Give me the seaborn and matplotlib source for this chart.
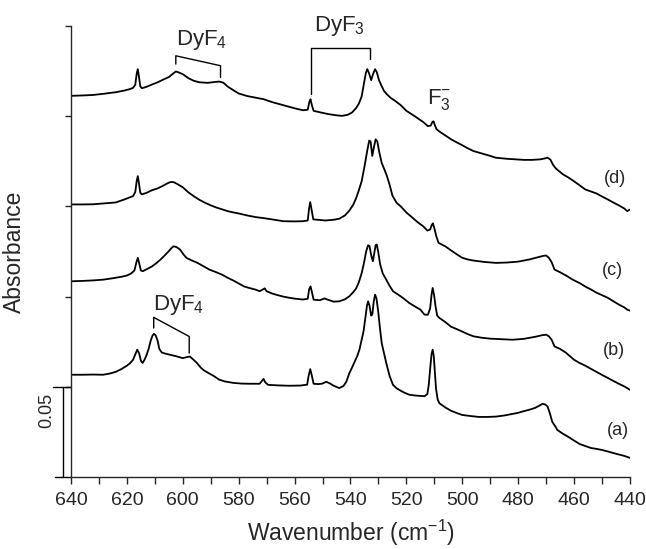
import matplotlib
matplotlib.use("Agg")
import matplotlib.pyplot as plt
import pandas as pd
import seaborn as sns

wn_d = [640, 636, 632, 628, 624, 621, 619, 617.8, 617, 616.5, 616.1, 615.7, 615.2, 614.6, 613, 611, 609,
        607, 605, 603.5, 602.5, 601.5, 600, 598, 596, 594, 591, 588.5, 587, 585.5, 584, 582, 580, 577,
        574, 571, 568, 564, 560, 557, 555.3, 554.7, 554.3, 553.8, 553.2, 551, 548, 545, 543, 541, 539.5,
        538, 537, 536, 535.2, 534.5, 534, 533.4, 532.6, 531.9, 531.2, 530.6, 529.8, 529, 528, 527,
        525.5, 524, 522, 520, 517, 514, 512.3, 511.3, 510.7, 510.3, 509.8, 509.2, 508, 506, 504, 502,
        500, 498, 496, 494, 492, 490, 488, 486, 484, 481, 478, 475, 472, 470.5, 469.5, 468.5, 467.5,
        466.5, 464, 462, 460, 458, 456, 454, 452, 450, 448, 446, 444, 442, 441, 440]
abs_d = [0.2113, 0.2115, 0.2118, 0.2125, 0.2133, 0.2142, 0.2150, 0.2157, 0.2175, 0.2235, 0.2261, 0.2220,
         0.2165, 0.2155, 0.2163, 0.2176, 0.2188, 0.2203, 0.2217, 0.2236, 0.2248, 0.2243, 0.2233, 0.2211,
         0.2196, 0.2188, 0.2185, 0.2190, 0.2192, 0.2186, 0.2165, 0.2145, 0.2126, 0.2112, 0.2103, 0.2094,
         0.2078, 0.2061, 0.2044, 0.2033, 0.2036, 0.2080, 0.2094, 0.2060, 0.2030, 0.2022, 0.2012, 0.2005,
         0.2002, 0.2008, 0.2020, 0.2045, 0.2070, 0.2110, 0.2180, 0.2240, 0.2261, 0.2240, 0.2200, 0.2235,
         0.2261, 0.2245, 0.2200, 0.2172, 0.2140, 0.2122, 0.2100, 0.2085, 0.2061, 0.2030, 0.2000, 0.1968,
         0.1945, 0.1948, 0.1968, 0.1972, 0.1950, 0.1928, 0.1913, 0.1893, 0.1872, 0.1855, 0.1839, 0.1822,
         0.1807, 0.1798, 0.1789, 0.1780, 0.1770, 0.1767, 0.1764, 0.1761, 0.1758, 0.1758, 0.1761, 0.1766,
         0.1770, 0.1760, 0.1730, 0.1710, 0.1678, 0.1660, 0.1639, 0.1617, 0.1594, 0.1583, 0.1572, 0.1555,
         0.1539, 0.1522, 0.1506, 0.1488, 0.1474, 0.1483]

wn_c = [640, 636, 632, 628, 624, 621, 619, 617.8, 617, 616.5, 616.1, 615.7, 615.2, 614.6, 613, 611, 609,
        607, 605, 604, 603, 601.5, 600, 598, 596, 594, 592, 590, 588, 586, 584, 582, 580, 577, 574, 571,
        568, 564, 560, 557, 555.3, 554.8, 554.4, 553.9, 553.3, 551, 549, 546, 544, 542, 540.5, 539, 538,
        537, 536, 535, 534, 533.3, 532.8, 532.2, 531.6, 531, 530.4, 529.7, 528.8, 528, 527, 526, 525,
        523.5, 522, 520, 518, 516, 514, 512.5, 511.5, 510.9, 510.5, 510, 509.3, 508.5, 506, 504, 502,
        500, 498, 496, 492, 488, 484, 480, 476, 473, 471, 470, 469, 468, 467, 465, 463, 460.5, 458, 456,
        454, 452, 450, 448, 446, 444, 442, 441, 440]
abs_c = [0.1511, 0.1511, 0.1512, 0.1517, 0.1522, 0.1538, 0.1550, 0.1557, 0.1580, 0.1640, 0.1668, 0.1630,
         0.1575, 0.1567, 0.1575, 0.1590, 0.1600, 0.1615, 0.1632, 0.1636, 0.1633, 0.1620, 0.1606, 0.1578,
         0.1556, 0.1536, 0.1520, 0.1506, 0.1494, 0.1484, 0.1474, 0.1467, 0.1461, 0.1450, 0.1441, 0.1435,
         0.1428, 0.1418, 0.1417, 0.1418, 0.1422, 0.1490, 0.1524, 0.1480, 0.1428, 0.1425, 0.1422, 0.1426,
         0.1432, 0.1450, 0.1475, 0.1510, 0.1545, 0.1590, 0.1640, 0.1720, 0.1810, 0.1865, 0.1860, 0.1780,
         0.1830, 0.1872, 0.1860, 0.1800, 0.1740, 0.1710, 0.1670, 0.1620, 0.1560, 0.1520, 0.1500, 0.1466,
         0.1440, 0.1413, 0.1390, 0.1366, 0.1372, 0.1398, 0.1406, 0.1380, 0.1335, 0.1298, 0.1278, 0.1256,
         0.1235, 0.1215, 0.1206, 0.1200, 0.1192, 0.1187, 0.1189, 0.1194, 0.1206, 0.1218, 0.1226, 0.1228,
         0.1215, 0.1190, 0.1150, 0.1135, 0.1118, 0.1094, 0.1075, 0.1056, 0.1040, 0.1022, 0.1008, 0.0994,
         0.0975, 0.0956, 0.0940, 0.0928, 0.0922]

wn_b = [640, 636, 632, 628.5, 625, 622, 620, 618.5, 617.3, 616.6, 616.1, 615.6, 615, 614.3, 612.5, 611,
        609.5, 608, 606.5, 605, 604, 603.3, 602.3, 601, 599.8, 598.7, 597, 595, 593, 590.5, 588, 586, 584,
        582, 580, 578, 576, 574, 572.5, 571.3, 570.7, 570, 568, 566, 564, 562, 560, 557, 555.3, 554.8,
        554.3, 553.8, 553.2, 551, 549.3, 548.5, 546, 544, 542, 540.4, 539, 538, 537, 536, 535.2, 534.4,
        533.7, 533.2, 532.6, 532, 531.5, 531, 530.6, 530.1, 529.4, 528.5, 527.2, 526, 524.8, 523, 521,
        519, 517, 515, 513.5, 512.3, 511.5, 511, 510.6, 510.1, 509.6, 509, 508.2, 506, 504, 502, 500,
        498, 496, 493, 490, 486, 482, 478, 474, 471.5, 470, 469, 468, 467, 465, 463, 460, 458, 456, 454,
        452, 450, 448, 446, 444, 442, 441, 440]
abs_b = [0.1085, 0.1087, 0.1090, 0.1094, 0.1102, 0.1110, 0.1117, 0.1128, 0.1145, 0.1190, 0.1215, 0.1185,
         0.1145, 0.1141, 0.1155, 0.1168, 0.1185, 0.1205, 0.1228, 0.1252, 0.1270, 0.1279, 0.1275, 0.1261,
         0.1235, 0.1215, 0.1202, 0.1189, 0.1172, 0.1150, 0.1135, 0.1122, 0.1105, 0.1090, 0.1073, 0.1056,
         0.1047, 0.1039, 0.1030, 0.1040, 0.1046, 0.1030, 0.1017, 0.1008, 0.1000, 0.0994, 0.0989, 0.0984,
         0.0988, 0.1040, 0.1057, 0.1025, 0.0983, 0.0980, 0.0990, 0.0985, 0.0972, 0.0974, 0.0985, 0.1002,
         0.1025, 0.1045, 0.1080, 0.1130, 0.1185, 0.1250, 0.1285, 0.1280, 0.1230, 0.1196, 0.1240, 0.1285,
         0.1289, 0.1250, 0.1180, 0.1130, 0.1094, 0.1060, 0.1030, 0.1012, 0.0990, 0.0965, 0.0946, 0.0928,
         0.0900, 0.0900, 0.0935, 0.1010, 0.1048, 0.1010, 0.0950, 0.0895, 0.0882, 0.0858, 0.0833, 0.0820,
         0.0806, 0.0792, 0.0780, 0.0772, 0.0767, 0.0764, 0.0761, 0.0766, 0.0777, 0.0786, 0.0789, 0.0780,
         0.0760, 0.0724, 0.0710, 0.0690, 0.0650, 0.0632, 0.0617, 0.0600, 0.0583, 0.0566, 0.0550, 0.0533,
         0.0517, 0.0502, 0.0493, 0.0483]

wn_a = [640, 636, 632, 628.5, 626, 624, 622, 620, 618.8, 617.8, 617, 616.3, 615.6, 615, 614.4, 613.7, 613,
        612.2, 611.5, 610.8, 610.3, 609.7, 609, 608.4, 607.5, 606, 604.6, 602, 600, 598.5, 597.5, 596.5,
        595, 593.5, 592.5, 591, 589, 587, 585, 582, 579, 576, 572.5, 571.6, 571.1, 570.5, 569.5, 566, 562,
        558, 555.5, 555, 554.4, 553.8, 553.2, 551.5, 550, 548.7, 547.5, 546, 544, 542.5, 541.5, 540.4,
        539.5, 538.5, 537.6, 536.8, 536, 535.3, 534.7, 534.1, 533.7, 533.2, 532.6, 532.2, 531.7, 531.2,
        530.7, 530.1, 529.4, 528.8, 528.3, 527.2, 526, 524.8, 523.5, 522, 520.5, 518.9, 517, 515, 513.5,
        512.5, 512, 511.5, 511, 510.6, 510.2, 509.8, 509.4, 508.8, 508.2, 506, 504, 502, 500, 497, 494,
        491, 488, 485, 482, 480, 478.5, 476, 474, 472.5, 471.3, 470.3, 469.5, 468.8, 467.8, 466.5, 466,
        464, 462, 460, 458, 456, 454, 452, 450, 448, 446, 444, 442, 440]
abs_a = [0.0567, 0.0567, 0.0568, 0.0567, 0.0574, 0.0583, 0.0598, 0.0617, 0.0632, 0.0650, 0.0680, 0.0706,
         0.0685, 0.0645, 0.0632, 0.0650, 0.0675, 0.0712, 0.0755, 0.0785, 0.0794, 0.0785, 0.0755, 0.0710,
         0.0690, 0.0683, 0.0678, 0.0668, 0.0659, 0.0665, 0.0668, 0.0655, 0.0633, 0.0605, 0.0592, 0.0578,
         0.0561, 0.0540, 0.0530, 0.0522, 0.0518, 0.0517, 0.0517, 0.0535, 0.0544, 0.0525, 0.0511, 0.0508,
         0.0506, 0.0507, 0.0512, 0.0560, 0.0598, 0.0560, 0.0517, 0.0515, 0.0518, 0.0528, 0.0520, 0.0506,
         0.0493, 0.0505, 0.0528, 0.0576, 0.0605, 0.0639, 0.0670, 0.0706, 0.0760, 0.0810, 0.0880, 0.0950,
         0.0974, 0.0950, 0.0895, 0.0900, 0.0970, 0.1011, 0.0990, 0.0920, 0.0817, 0.0740, 0.0706, 0.0632,
         0.0560, 0.0511, 0.0492, 0.0478, 0.0466, 0.0456, 0.0452, 0.0450, 0.0448, 0.0460, 0.0510, 0.0600,
         0.0680, 0.0706, 0.0670, 0.0580, 0.0490, 0.0430, 0.0409, 0.0385, 0.0367, 0.0355, 0.0344, 0.0338,
         0.0333, 0.0333, 0.0335, 0.0341, 0.0350, 0.0356, 0.0363, 0.0373, 0.0383, 0.0395, 0.0406, 0.0402,
         0.0391, 0.0360, 0.0306, 0.0275, 0.0261, 0.0240, 0.0222, 0.0202, 0.0183, 0.0172, 0.0161, 0.0156,
         0.0150, 0.0142, 0.0133, 0.0125, 0.0117, 0.0106]

trace_names = ["(a)", "(b)", "(c)", "(d)"]
label_pos = [(444.3, 0.0256), (445.7, 0.0700), (446.4, 0.1144), (445.4, 0.1656)]

frames = []
for name, wn, ab in zip(trace_names, [wn_a, wn_b, wn_c, wn_d], [abs_a, abs_b, abs_c, abs_d]):
    frames.append(pd.DataFrame({"wn": wn, "A": ab, "trace": name}))
df = pd.concat(frames, ignore_index=True)

sns.set_style("ticks")
plt.rcParams["font.family"] = ["Liberation Sans", "DejaVu Sans"]
plt.rcParams["mathtext.fontset"] = "custom"
plt.rcParams["mathtext.rm"] = "Liberation Sans"
plt.rcParams["mathtext.it"] = "Liberation Sans"

fig = plt.figure(figsize=(6.46, 5.49), dpi=100)
ax = fig.add_axes([0.1099, 0.1311, 0.8653, 0.8215])

for name in trace_names:
    sns.lineplot(data=df[df["trace"] == name], x="wn", y="A", ax=ax, color="black",
                 linewidth=1.3, estimator=None, sort=False, legend=False)

ax.set_xlim(640, 440)
ax.set_ylim(0, 0.25)
ax.set_xticks(range(640, 439, -20))
ax.set_xticks(range(630, 440, -20), minor=True)
ax.set_yticks([0.05, 0.10, 0.15, 0.20, 0.25])
ax.set_yticklabels([])
sns.despine(ax=ax)
for s in ["left", "bottom"]:
    ax.spines[s].set_linewidth(1.0)
ax.tick_params(axis="x", which="both", direction="out", length=5, width=1.0, labelsize=14, pad=6)
ax.tick_params(axis="y", direction="out", length=4, width=1.0)

ax.set_xlabel("Wavenumber (cm$^{\\mathregular{-1}}$)", fontsize=16.5, labelpad=6)
ax.set_ylabel("Absorbance", fontsize=16.5, labelpad=25)

# scale bar
ax.plot([645.7, 640], [0, 0], color="black", lw=1.0, clip_on=False)
ax.plot([642.9, 642.9], [0, 0.05], color="black", lw=1.0, clip_on=False)
ax.plot([646.4, 640], [0.05, 0.05], color="black", lw=1.0, clip_on=False)
ax.text(648.6, 0.037, "0.05", rotation=90, ha="center", va="center", fontsize=13)

# band assignments
ax.text(602.3, 0.2394, "DyF$_\\mathregular{4}$", fontsize=16, ha="left", va="baseline")
ax.plot([602.5, 602.5, 586.5, 586.5], [0.2289, 0.2335, 0.2280, 0.2215], color="black", lw=1.0)
ax.text(552.9, 0.2472, "DyF$_\\mathregular{3}$", fontsize=16, ha="left", va="baseline")
ax.plot([554.3, 554.3, 533, 533], [0.2122, 0.2376, 0.2376, 0.2317], color="black", lw=1.0)
ax.text(512.5, 0.2067, "F$_\\mathregular{3}^{\\mathregular{-}}$", fontsize=16, ha="left", va="baseline")
ax.text(610.7, 0.0928, "DyF$_\\mathregular{4}$", fontsize=16, ha="left", va="baseline")
ax.plot([610.4, 610.4, 597.7, 597.7], [0.0826, 0.0885, 0.0779, 0.0687], color="black", lw=1.0)

for name, (x, y) in zip(trace_names, label_pos):
    ax.text(x, y, name, fontsize=13, ha="center", va="center")

fig.savefig("out.png", dpi=100)
